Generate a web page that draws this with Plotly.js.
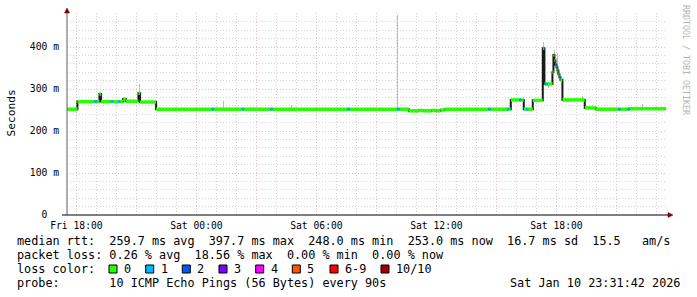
<!DOCTYPE html>
<html><head><meta charset="utf-8">
<script src="https://cdn.plot.ly/plotly-3.0.1.min.js"></script>
<style>html,body{margin:0;padding:0;background:#fff;} #chart{width:697px;height:297px;}</style>
</head><body><div id="chart"></div>
<script>
// ---- data (median rtt in ms, loss = lost pings of 10) ----
const medTime = [
 "2026-01-09 17:31:42","2026-01-09 18:03","2026-01-09 18:54","2026-01-09 19:00","2026-01-09 19:09",
 "2026-01-09 19:14","2026-01-09 19:43","2026-01-09 19:49","2026-01-09 20:05","2026-01-09 20:11",
 "2026-01-09 20:20","2026-01-09 20:28","2026-01-09 21:06","2026-01-09 21:11","2026-01-09 21:59",
 "2026-01-10 00:46","2026-01-10 00:52","2026-01-10 02:16","2026-01-10 02:22","2026-01-10 03:42",
 "2026-01-10 03:48","2026-01-10 07:33","2026-01-10 07:39","2026-01-10 10:03","2026-01-10 10:09",
 "2026-01-10 10:37","2026-01-10 11:05","2026-01-10 11:20","2026-01-10 11:45","2026-01-10 12:00",
 "2026-01-10 12:12","2026-01-10 12:25","2026-01-10 14:36","2026-01-10 14:42","2026-01-10 15:32",
 "2026-01-10 15:38","2026-01-10 15:43","2026-01-10 16:09","2026-01-10 16:15","2026-01-10 16:22",
 "2026-01-10 16:29","2026-01-10 16:35","2026-01-10 16:49","2026-01-10 17:19","2026-01-10 17:24",
 "2026-01-10 17:27","2026-01-10 17:33","2026-01-10 17:48","2026-01-10 17:51","2026-01-10 17:54",
 "2026-01-10 17:57","2026-01-10 18:00","2026-01-10 18:03","2026-01-10 18:06","2026-01-10 18:09",
 "2026-01-10 18:12","2026-01-10 18:18","2026-01-10 19:25","2026-01-10 19:58","2026-01-10 21:06",
 "2026-01-10 21:12","2026-01-10 21:33","2026-01-10 21:39"
];
const medVal = [
 252,270,270,270,288, 270,270,270,270,270, 276,271,290,269,252,
 252,252,252,252,252, 252,252,252,252,252, 248,249,248,249,248,
 250,252,252,252,252, 252,274,274,274,252, 252,252,273,397,312,
 312,312,340,381,368, 358,352,344,335,328, 322,274,255,252,252,
 252,252,253
];
const medLoss = [
 0,0,1,0,0, 0,1,0,1,0, 0,0,0,0,0,
 1,0,1,0,1, 0,1,0,1,0, 0,0,0,0,0,
 0,0,1,0,1, 0,0,1,0,0, 1,0,0,1,0,
 1,0,0,0,0, 1,1,0,0,1, 0,0,0,0,1,
 0,1,0
];
const dataEnd = "2026-01-10 23:28";

// smoke (spread of individual pings), ms
const smokeTime = ["2026-01-09 21:08","2026-01-10 01:22","2026-01-10 04:45","2026-01-10 10:04",
                   "2026-01-10 17:21","2026-01-10 17:37","2026-01-10 17:53","2026-01-10 18:04",
                   "2026-01-10 19:19","2026-01-10 22:19"];
const smokeLo = [269,252,252,252, 390,302,362,335, 274,252];
const smokeHi = [312,272,262,476, 412,312,392,385, 284,264];

const lossLabels = ["0","1","2","3","4","5","6-9","10/10"];
const lossColors = ["#26ff00","#00b8ff","#0059ff","#7e00ff","#ff00ff","#ff5500","#ff0000","#a10000"];

const xTickVals = ["2026-01-09 18:00","2026-01-09 21:00","2026-01-10 00:00","2026-01-10 03:00",
                   "2026-01-10 06:00","2026-01-10 09:00","2026-01-10 12:00","2026-01-10 15:00",
                   "2026-01-10 18:00","2026-01-10 21:00"];
const xTickText = ["Fri 18:00","","Sat 00:00","","Sat 06:00","","Sat 12:00","","Sat 18:00",""];
const yTickVals = [0,100,200,300,400];
const yTickText = ["0\u00a0\u00a0","100 m","200 m","300 m","400 m"];

const statLines = [
 "median rtt:  259.7 ms avg  397.7 ms max  248.0 ms min  253.0 ms now  16.7 ms sd  15.5   am/s",
 "packet loss: 0.26 % avg  18.56 % max  0.00 % min  0.00 % now",
 "loss color:",
 "probe:       10 ICMP Echo Pings (56 Bytes) every 90s"
];
const stampText = "Sat Jan 10 23:31:42 2026";
const watermark = "RRDTOOL / TOBI OETIKER";

// ---- geometry ----
const W=697,H=297, ML=67, MR=30, MT=13, MB=82;
const PW=W-ML-MR, PH=H-MT-MB;
const px = x => (x-ML)/PW;
const py = y => 1-(y-MT)/PH;
const nb = s => s.replace(/ /g,"\u00a0");
const MONO = "DejaVu Sans Mono";

// ---- traces ----
const times = medTime.concat([dataEnd]);
const traces = [];
traces.push({type:'bar', x:smokeTime, base:smokeLo, y:smokeHi.map((h,i)=>h-smokeLo[i]),
  width:180000, marker:{color:'#bdbdbd', line:{width:0}}, hoverinfo:'skip', showlegend:false});
traces.push({type:'scatter', mode:'lines', x:times, y:medVal.concat([medVal[medVal.length-1]]),
  line:{color:'#1a1a1a', width:2, shape:'hv'}, hoverinfo:'skip', showlegend:false});
function segTrace(loss){
  const xs=[], ys=[];
  for(let i=0;i<medVal.length;i++) if(medLoss[i]===loss){ xs.push(times[i],times[i+1],null); ys.push(medVal[i],medVal[i],null); }
  return {type:'scatter', mode:'lines', x:xs, y:ys, connectgaps:false,
    line:{color:lossColors[loss], width:3.5}, hoverinfo:'skip', showlegend:false};
}
traces.push(segTrace(0));
traces.push(segTrace(1));

// ---- annotations & shapes ----
const ann = [];
const lineY = [241,255,269,283];
const lf = {family:MONO, size:11.8, color:'#000'};
statLines.forEach((s,i)=>ann.push({xref:'paper',yref:'paper',x:px(16),y:py(lineY[i]),xanchor:'left',yanchor:'middle',
  text:nb(s),showarrow:false,font:lf,borderpad:0}));
ann.push({xref:'paper',yref:'paper',x:px(681),y:py(283),xanchor:'right',yanchor:'middle',text:nb(stampText),showarrow:false,font:lf,borderpad:0});
const swX = [109,145.7,182.3,219,255.7,292.3,330,381];
const shapes = [];
lossLabels.forEach((l,i)=>{
  shapes.push({type:'rect',xref:'paper',yref:'paper',x0:px(swX[i]),x1:px(swX[i]+8),y0:py(265),y1:py(273),
    fillcolor:lossColors[i],line:{color:'#000',width:1}});
  ann.push({xref:'paper',yref:'paper',x:px(swX[i]+14),y:py(269),xanchor:'left',yanchor:'middle',text:l,showarrow:false,font:lf,borderpad:0});
});
ann.push({xref:'paper',yref:'paper',x:px(11),y:py(113.5),textangle:-90,xanchor:'center',yanchor:'middle',
  text:'Seconds',showarrow:false,font:{family:MONO,size:11.2,color:'#000'},borderpad:0});
ann.push({xref:'paper',yref:'paper',x:px(686),y:py(60),textangle:90,xanchor:'center',yanchor:'middle',
  text:nb(watermark),showarrow:false,font:{family:MONO,size:8.3,color:'#b4b4b4'},borderpad:0});
// axis lines and arrows
shapes.push({type:'line',xref:'paper',yref:'paper',x0:px(67),x1:px(67),y0:py(215),y1:py(12),line:{color:'#606060',width:1},layer:'above'});
shapes.push({type:'line',xref:'paper',yref:'paper',x0:px(62),x1:px(669),y0:py(215),y1:py(215),line:{color:'#000',width:1},layer:'above'});
shapes.push({type:'path',xref:'paper',yref:'paper',layer:'above',fillcolor:'#7f0000',line:{color:'#7f0000',width:0.5},
  path:`M ${px(67)} ${py(8)} L ${px(64.5)} ${py(13)} L ${px(69.5)} ${py(13)} Z`});
shapes.push({type:'path',xref:'paper',yref:'paper',layer:'above',fillcolor:'#7f0000',line:{color:'#7f0000',width:0.5},
  path:`M ${px(673)} ${py(215)} L ${px(668)} ${py(212.5)} L ${px(668)} ${py(217.5)} Z`});

const gridMinor = '#d4d4d4', gridMajor = '#ebbcbc';
const layout = {
  width:W, height:H, margin:{l:ML,r:MR,t:MT,b:MB,pad:0},
  paper_bgcolor:'#fff', plot_bgcolor:'#fff', hovermode:false, showlegend:false,
  xaxis:{type:'date', range:["2026-01-09 17:31:42","2026-01-10 23:31:42"], tickmode:'array',
    tickvals:xTickVals, ticktext:xTickText, showgrid:true, gridcolor:gridMajor, griddash:'1px,2px', gridwidth:1,
    ticks:'', ticklabelstandoff:3, zeroline:false, showline:false, tickfont:{family:MONO,size:9.7,color:'#000'},
    minor:{tickmode:'linear', tick0:"2026-01-09 18:00", dtick:3600000, showgrid:true, gridcolor:gridMinor, griddash:'1px,2px', gridwidth:1},
    fixedrange:true},
  yaxis:{range:[0,481], tickmode:'array', tickvals:yTickVals, ticktext:yTickText, showgrid:true,
    gridcolor:gridMajor, griddash:'1px,2px', gridwidth:1, ticks:'', ticklabelstandoff:7, zeroline:false, showline:false,
    tickfont:{family:MONO,size:9.7,color:'#000'},
    minor:{tickmode:'linear', tick0:0, dtick:20, showgrid:true, gridcolor:gridMinor, griddash:'1px,2px', gridwidth:1},
    fixedrange:true},
  annotations:ann, shapes:shapes, bargap:0
};
Plotly.newPlot('chart', traces, layout, {displayModeBar:false, staticPlot:true});
</script></body></html>
